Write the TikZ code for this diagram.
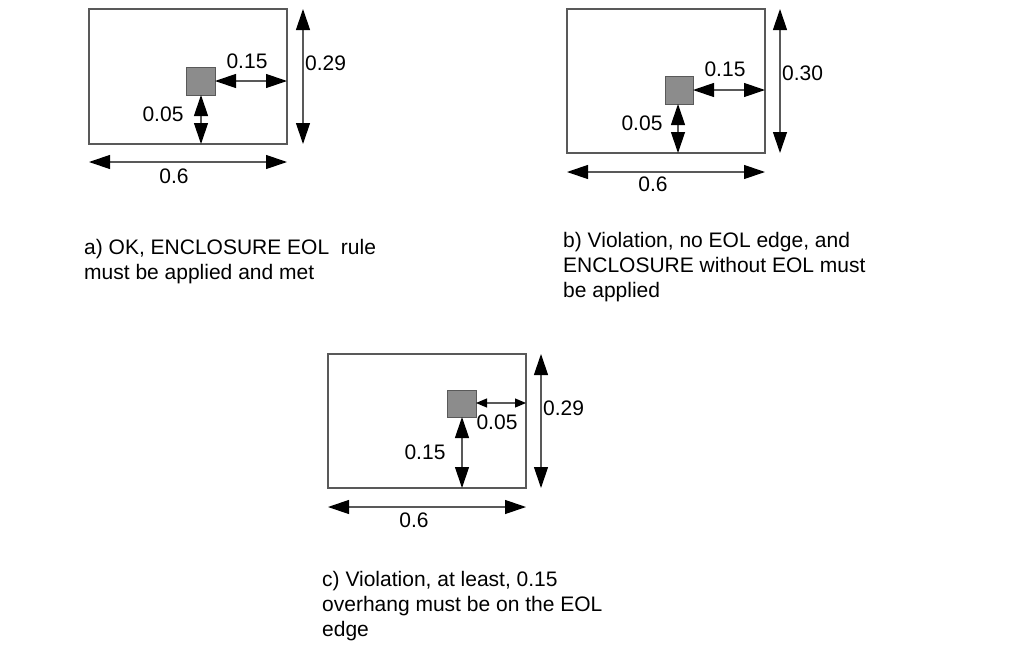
\documentclass[tikz,border=0pt]{standalone}
\usepackage{fontspec}
\setmainfont{Liberation Sans}
\usetikzlibrary{arrows.meta}

\tikzset{
  frame/.style={draw=black!65, line width=1.3pt},
  via/.style={draw=black!65, fill=black!45, line width=1pt},
  dim/.style={draw=black!65, line width=1.2pt, {Triangle[length=21pt,width=14pt,color=black]}-{Triangle[length=21pt,width=14pt,color=black]}},
  dimsmall/.style={draw=black!65, line width=1.2pt, {Triangle[length=11pt,width=9pt,color=black]}-{Triangle[length=11pt,width=9pt,color=black]}},
  lbl/.style={inner sep=0pt, font=\fontsize{21}{24}\selectfont},
  caption/.style={inner sep=0pt, anchor=north west, align=left, font=\fontsize{21}{25}\selectfont}
}

\begin{document}
\begin{tikzpicture}[x=1pt, y=-1pt]
\useasboundingbox (0,0) rectangle (1013,654);
% Case a
\draw[frame] (89,9) coordinate (a-nw) rectangle (287,144) coordinate (a-se);
\draw[via] (186,67) coordinate (a-via-nw) rectangle (215,95) coordinate (a-via-se);
\coordinate (a-right) at (a-se |- 0,81);
\coordinate (a-via-right) at (a-via-se |- a-right);
\coordinate (a-via-bottom) at (201,95);
\coordinate (a-bottom) at (a-via-bottom |- a-se);
\draw[dim] (a-via-right) -- (a-right);
\draw[dim] (a-via-bottom) -- (a-bottom);
\node[lbl] (a-over) at (247,61) {0.15};
\node[lbl] (a-end) at (163,114) {0.05};
% Height and width of the wire
\coordinate (a-ht-top) at (303,9);
\coordinate (a-ht-bot) at (303,144);
\draw[dim] (a-ht-top) -- (a-ht-bot);
\node[lbl, anchor=west] (a-ht) at (305,63) {0.29};
\coordinate (a-wd-left) at (89,162);
\coordinate (a-wd-right) at (287,162);
\draw[dim] (a-wd-left) -- (a-wd-right);
\node[lbl] (a-wd) at (174,176) {0.6};
\node[caption] (a-text) at (84,239) {a) OK, ENCLOSURE EOL\ \ rule\\must be applied and met};

% Case b
\draw[frame] (567,9) coordinate (b-nw) rectangle (765,153) coordinate (b-se);
\draw[via] (665,76) coordinate (b-via-nw) rectangle (693,104) coordinate (b-via-se);
\coordinate (b-right) at (b-se |- 0,90);
\coordinate (b-via-right) at (b-via-se |- b-right);
\coordinate (b-via-bottom) at (678,104);
\coordinate (b-bottom) at (b-via-bottom |- b-se);
\draw[dim] (b-via-right) -- (b-right);
\draw[dim] (b-via-bottom) -- (b-bottom);
\node[lbl] (b-over) at (725,69) {0.15};
\node[lbl] (b-end) at (642,123) {0.05};
% Height and width of the wire
\coordinate (b-ht-top) at (780,9);
\coordinate (b-ht-bot) at (780,153);
\draw[dim] (b-ht-top) -- (b-ht-bot);
\node[lbl, anchor=west] (b-ht) at (782,73) {0.30};
\coordinate (b-wd-left) at (567,172);
\coordinate (b-wd-right) at (765,172);
\draw[dim] (b-wd-left) -- (b-wd-right);
\node[lbl] (b-wd) at (653,184) {0.6};
\node[caption] (b-text) at (563,232) {b) Violation, no EOL edge, and\\ENCLOSURE without EOL must\\be applied};

% Case c
\draw[frame] (328,354) coordinate (c-nw) rectangle (526,488) coordinate (c-se);
\draw[via] (447,390) coordinate (c-via-nw) rectangle (476,417) coordinate (c-via-se);
\coordinate (c-right) at (c-se |- 0,403);
\coordinate (c-via-right) at (c-via-se |- c-right);
\coordinate (c-via-bottom) at (462,417);
\coordinate (c-bottom) at (c-via-bottom |- c-se);
\draw[dimsmall] (c-via-right) -- (c-right);
\draw[dim] (c-via-bottom) -- (c-bottom);
\node[lbl] (c-end) at (497,422) {0.05};
\node[lbl] (c-over) at (425,452) {0.15};
% Height and width of the wire
\coordinate (c-ht-top) at (541,354);
\coordinate (c-ht-bot) at (541,488);
\draw[dim] (c-ht-top) -- (c-ht-bot);
\node[lbl, anchor=west] (c-ht) at (543,408) {0.29};
\coordinate (c-wd-left) at (328,507);
\coordinate (c-wd-right) at (526,507);
\draw[dim] (c-wd-left) -- (c-wd-right);
\node[lbl] (c-wd) at (414,520) {0.6};
\node[caption] (c-text) at (322,571) {c) Violation, at least, 0.15\\overhang must be on the EOL\\edge};
\end{tikzpicture}
\end{document}
